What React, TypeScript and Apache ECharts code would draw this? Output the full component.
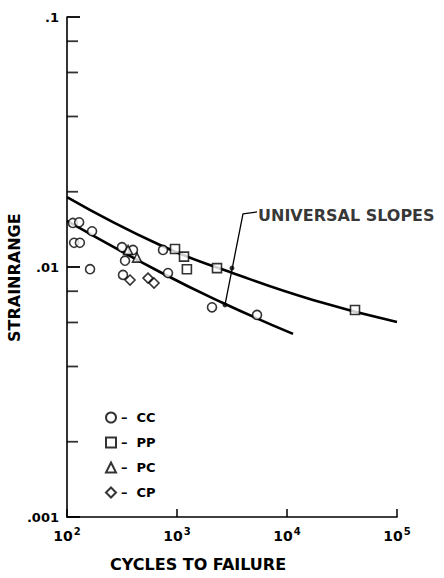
import React, { useEffect, useRef } from "react";
import * as echarts from "echarts";

// Data (cycles to failure, strainrange)
const ccPoints = [
  [113, 0.015], [129, 0.0151], [169, 0.0139], [116, 0.0125], [131, 0.0125],
  [162, 0.0098], [316, 0.012], [398, 0.0117], [337, 0.0106], [323, 0.0093],
  [746, 0.0117], [828, 0.00946], [2080, 0.0069], [5340, 0.00643],
];
const ppPoints = [[959, 0.0118], [1158, 0.011], [1230, 0.0098], [2310, 0.0099], [41500, 0.00673]];
const pcPoints = [[359, 0.0117], [433, 0.0109]];
const cpPoints = [[374, 0.00887], [545, 0.00903], [618, 0.00863]];

const upperSlope = [
  [100, 0.01905], [700, 0.01225], [3035, 0.00955], [17200, 0.00738], [100000, 0.00603],
];
const lowerSlope = [
  [100, 0.01528], [700, 0.00955], [2620, 0.00718], [11350, 0.0054],
];

const leader = [[5340, 0.0166], [3980, 0.0163], [2730, 0.00705]];
const leaderDots = [[3160, 0.0099], [2730, 0.00705]];
const annotation = [[5450, 0.016]];
const annotationText = "UNIVERSAL SLOPES";

const yMinorTicks = [0.002, 0.004, 0.006, 0.008, 0.02, 0.04, 0.06, 0.08];
const yTickLabels: Record<string, string> = { "0.1": ".1", "0.01": ".01", "0.001": ".001" };
const xTickExponents: Record<string, string> = { "100": "2", "1000": "3", "10000": "4", "100000": "5" };

const FONT = "DejaVu Sans";

export default function App() {
  const ref = useRef<HTMLDivElement>(null);
  useEffect(() => {
    if (!ref.current) return;
    const chart = echarts.init(ref.current, undefined, { renderer: "svg" });
    const markerStyle = { color: "#fff", borderColor: "#000", borderWidth: 1.6 };
    chart.setOption({
      animation: false,
      backgroundColor: "#fff",
      grid: { left: 67, right: 47, top: 17, bottom: 61, containLabel: false },
      xAxis: {
        type: "log",
        min: 100,
        max: 100000,
        logBase: 10,
        axisLine: { show: true, lineStyle: { color: "#000", width: 1.6 } },
        axisTick: { show: true, inside: true, length: 8, lineStyle: { color: "#000", width: 1.5 } },
        minorTick: { show: false },
        splitLine: { show: false },
        axisLabel: {
          margin: 9,
          formatter: (v: number) => `{b|10}{s|${xTickExponents[String(Math.round(v))] ?? ""}}`,
          rich: {
            b: { fontFamily: FONT, fontSize: 14, color: "#000", fontWeight: "bold" },
            s: { fontFamily: FONT, fontSize: 10, color: "#000", fontWeight: "bold", verticalAlign: "top", padding: [0, 0, 9, 1] },
          },
        },
      },
      yAxis: {
        type: "log",
        min: 0.001,
        max: 0.1,
        logBase: 10,
        axisLine: { show: true, lineStyle: { color: "#000", width: 1.6 } },
        axisTick: { show: true, inside: true, length: 13, lineStyle: { color: "#000", width: 1.8 } },
        splitLine: { show: false },
        axisLabel: {
          margin: 8,
          fontFamily: FONT,
          fontSize: 13,
          fontWeight: "bold",
          color: "#000",
          formatter: (v: number) => yTickLabels[String(v)] ?? yTickLabels[String(+v.toPrecision(3))] ?? "",
        },
      },
      legend: {
        data: ["CC", "PP", "PC", "CP"],
        orient: "vertical",
        left: 100,
        top: 406,
        itemWidth: 10,
        itemHeight: 10,
        itemGap: 12,
        formatter: "–  {name}",
        textStyle: { fontFamily: FONT, fontSize: 13, fontWeight: "bold", color: "#000" },
      },
      graphic: [
        {
          type: "text",
          left: 110,
          top: 556,
          style: { text: "CYCLES TO FAILURE", font: `bold 16px "${FONT}"`, fill: "#000" },
        },
        {
          type: "text",
          x: 6,
          y: 342,
          rotation: Math.PI / 2,
          style: { text: "STRAINRANGE", font: `bold 16px "${FONT}"`, fill: "#000" },
        },
      ],
      series: [
        {
          name: "upper",
          type: "line",
          data: upperSlope,
          smooth: true,
          showSymbol: false,
          symbol: "none",
          lineStyle: { color: "#000", width: 2.6 },
          silent: true,
          z: 2,
        },
        {
          name: "lower",
          type: "line",
          data: lowerSlope,
          smooth: true,
          showSymbol: false,
          symbol: "none",
          lineStyle: { color: "#000", width: 2.6 },
          silent: true,
          z: 2,
        },
        {
          name: "leader",
          type: "line",
          data: leader,
          symbol: "none",
          lineStyle: { color: "#000", width: 1.3 },
          silent: true,
        },
        {
          name: "leaderDots",
          type: "scatter",
          data: leaderDots,
          symbol: "circle",
          symbolSize: 5,
          itemStyle: { color: "#000" },
          silent: true,
        },
        {
          name: "annotation",
          type: "scatter",
          data: annotation,
          symbolSize: 0,
          label: {
            show: true,
            position: "right",
            distance: 0,
            formatter: annotationText,
            fontFamily: FONT,
            fontSize: 16,
            fontWeight: "bold",
            color: "#000",
          },
          silent: true,
        },
        {
          name: "yTicks",
          type: "scatter",
          data: yMinorTicks.map((v) => [100, v]),
          symbol: "rect",
          symbolSize: [11, 1.8],
          symbolOffset: [5.5, 0],
          itemStyle: { color: "#000" },
          silent: true,
        },
        { name: "CC", type: "scatter", data: ccPoints, symbol: "circle", symbolSize: 9, itemStyle: markerStyle, z: 3 },
        { name: "PP", type: "scatter", data: ppPoints, symbol: "rect", symbolSize: 9, itemStyle: markerStyle, z: 3 },
        { name: "PC", type: "scatter", data: pcPoints, symbol: "triangle", symbolSize: 9, itemStyle: markerStyle, z: 3 },
        { name: "CP", type: "scatter", data: cpPoints, symbol: "diamond", symbolSize: 10, itemStyle: markerStyle, z: 3 },
      ],
    });
    return () => chart.dispose();
  }, []);
  return <div ref={ref} style={{ width: 444, height: 578, position: "absolute", left: 0, top: 0 }} />;
}
